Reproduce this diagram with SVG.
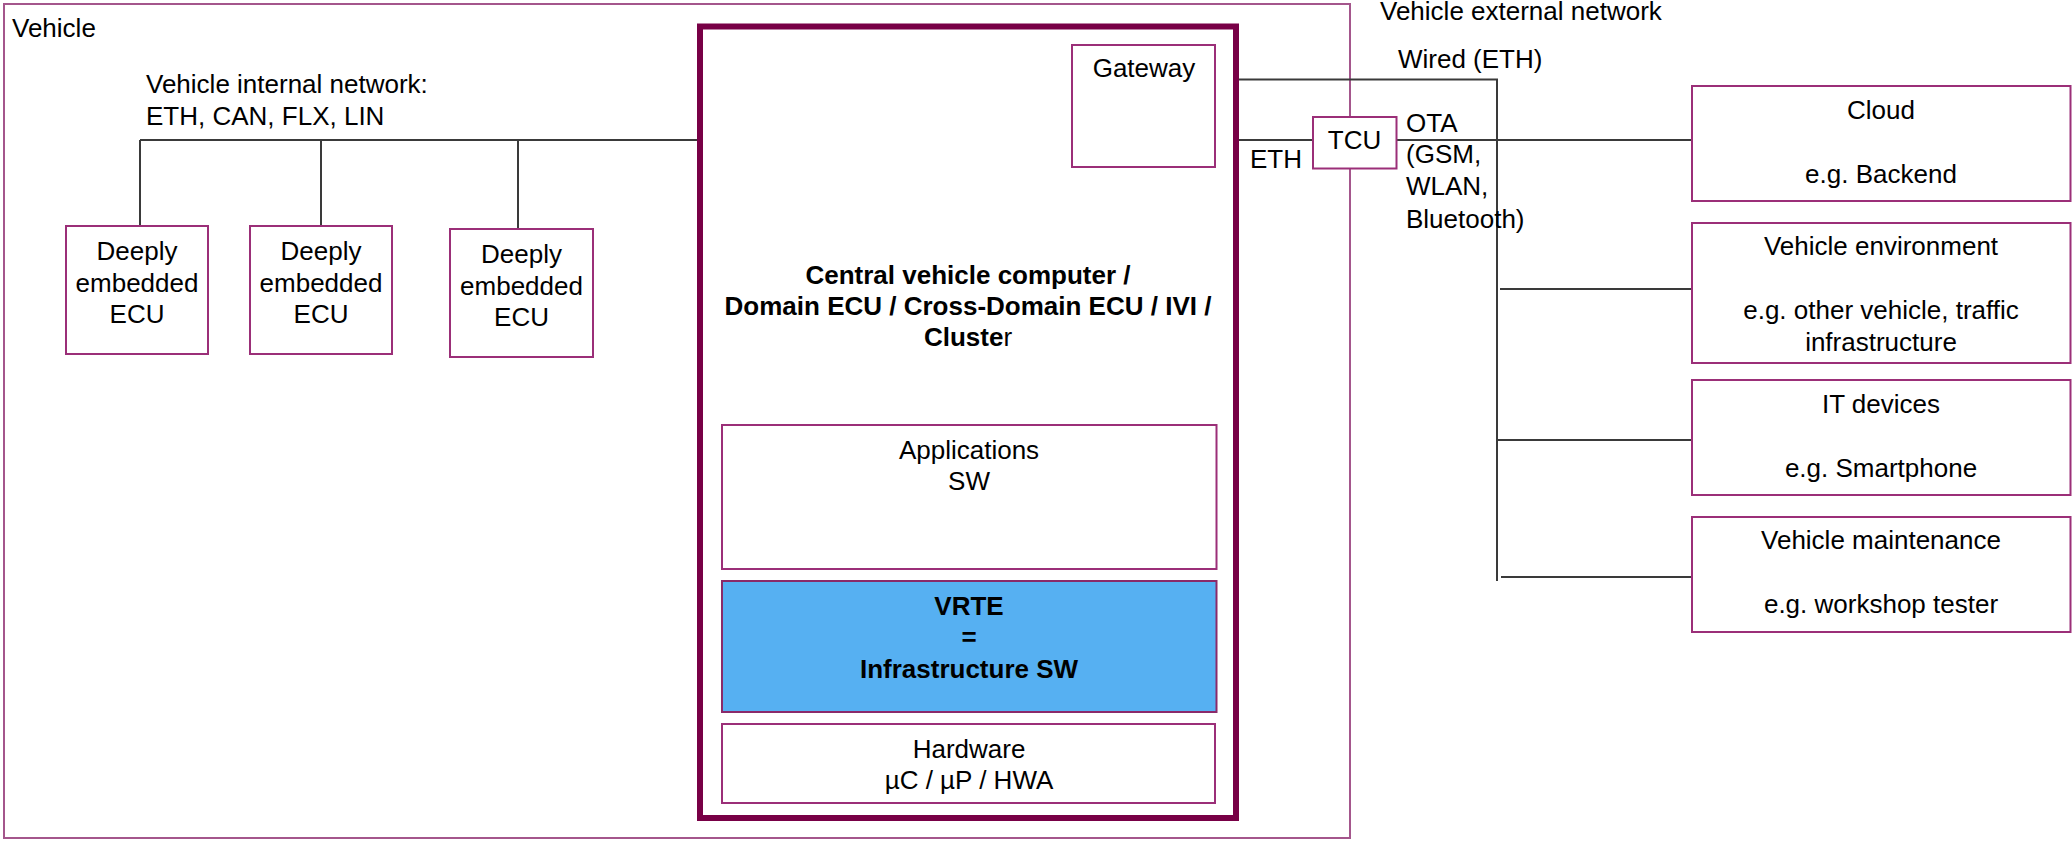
<svg xmlns="http://www.w3.org/2000/svg" width="2072" height="841" viewBox="0 0 2072 841">
  <style>
    text { font-family: "Liberation Sans", Arial, sans-serif; font-size: 26px; fill: #000; }
    .c { text-anchor: middle; }
    .b { font-weight: bold; }
    .box { fill: #fff; stroke: #9b2f78; stroke-width: 2; }
    .vehicle { fill: none; stroke: #a4568c; stroke-width: 2; }
    .cvc { fill: #fff; stroke: #780046; stroke-width: 6; }
    .vrte { fill: #56b0f2; stroke: #8a2a6a; stroke-width: 2; }
    .wire { fill: none; stroke: #3a3a3a; stroke-width: 2; }
  </style>
  <rect width="2072" height="841" fill="#fff"/>

  <!-- Vehicle boundary -->
  <g id="vehicle">
    <rect class="vehicle" x="4" y="4" width="1346" height="834"/>
    <text x="12" y="37">Vehicle</text>
    <text x="146" y="93">Vehicle internal network:</text>
    <text x="146" y="125">ETH, CAN, FLX, LIN</text>
  </g>

  <text id="external-label" x="1380" y="20">Vehicle external network</text>

  <!-- Connectors -->
  <g id="connectors" class="wire">
    <path d="M140 140 H1072"/>
    <path d="M140 140 V226"/>
    <path d="M321 140 V226"/>
    <path d="M518 140 V229"/>
    <path d="M1215 140 H1313"/>
    <path d="M1215 79.5 H1497 V581"/>
    <path d="M1396 140 H1692"/>
    <path d="M1500 289 H1692"/>
    <path d="M1497 440 H1692"/>
    <path d="M1501 577 H1692"/>
  </g>

  <!-- Deeply embedded ECUs -->
  <g id="ecu1">
    <rect class="box" x="66" y="226" width="142" height="128"/>
    <text class="c" x="137" y="260">Deeply</text>
    <text class="c" x="137" y="292">embedded</text>
    <text class="c" x="137" y="323">ECU</text>
  </g>
  <g id="ecu2">
    <rect class="box" x="250" y="226" width="142" height="128"/>
    <text class="c" x="321" y="260">Deeply</text>
    <text class="c" x="321" y="292">embedded</text>
    <text class="c" x="321" y="323">ECU</text>
  </g>
  <g id="ecu3">
    <rect class="box" x="450" y="229" width="143" height="128"/>
    <text class="c" x="521.5" y="263">Deeply</text>
    <text class="c" x="521.5" y="295">embedded</text>
    <text class="c" x="521.5" y="326">ECU</text>
  </g>

  <!-- Central vehicle computer -->
  <g id="central-computer">
    <rect class="cvc" x="700" y="26.5" width="536" height="791.5"/>
    <text class="c b" x="968" y="284">Central vehicle computer /</text>
    <text class="c b" x="968" y="315">Domain ECU / Cross-Domain ECU / IVI /</text>
    <text class="c" x="968" y="346"><tspan class="b">Cluste</tspan>r</text>
  </g>

  <g id="gateway">
    <rect class="box" x="1072" y="45" width="143" height="122"/>
    <text class="c" x="1144" y="77">Gateway</text>
  </g>

  <g id="applications">
    <rect class="box" x="722" y="425" width="494.5" height="144"/>
    <text class="c" x="969" y="459">Applications</text>
    <text class="c" x="969" y="490">SW</text>
  </g>

  <g id="vrte">
    <rect class="vrte" x="722" y="581" width="494.5" height="131"/>
    <text class="c b" x="969" y="615">VRTE</text>
    <text class="c b" x="969" y="646">=</text>
    <text class="c b" x="969" y="678">Infrastructure SW</text>
  </g>

  <g id="hardware">
    <rect class="box" x="722" y="724" width="493" height="79"/>
    <text class="c" x="969" y="758">Hardware</text>
    <text class="c" x="969" y="789">µC / µP / HWA</text>
  </g>

  <text id="eth-label" x="1250" y="168">ETH</text>

  <g id="tcu">
    <rect class="box" x="1313" y="117" width="83.5" height="51.5"/>
    <text class="c" x="1354.5" y="149">TCU</text>
  </g>

  <g id="ext-labels">
    <text x="1398" y="68">Wired (ETH)</text>
    <text x="1406" y="132">OTA</text>
    <text x="1406" y="163">(GSM,</text>
    <text x="1406" y="195">WLAN,</text>
    <text x="1406" y="228">Bluetooth)</text>
  </g>

  <!-- External endpoints -->
  <g id="cloud">
    <rect class="box" x="1692" y="86" width="378.5" height="115"/>
    <text class="c" x="1881" y="119">Cloud</text>
    <text class="c" x="1881" y="183">e.g. Backend</text>
  </g>
  <g id="vehicle-environment">
    <rect class="box" x="1692" y="223" width="378.5" height="140"/>
    <text class="c" x="1881" y="255">Vehicle environment</text>
    <text class="c" x="1881" y="319">e.g. other vehicle, traffic</text>
    <text class="c" x="1881" y="351">infrastructure</text>
  </g>
  <g id="it-devices">
    <rect class="box" x="1692" y="380" width="378.5" height="115"/>
    <text class="c" x="1881" y="413">IT devices</text>
    <text class="c" x="1881" y="477">e.g. Smartphone</text>
  </g>
  <g id="vehicle-maintenance">
    <rect class="box" x="1692" y="517" width="378.5" height="115"/>
    <text class="c" x="1881" y="549">Vehicle maintenance</text>
    <text class="c" x="1881" y="613">e.g. workshop tester</text>
  </g>
</svg>
